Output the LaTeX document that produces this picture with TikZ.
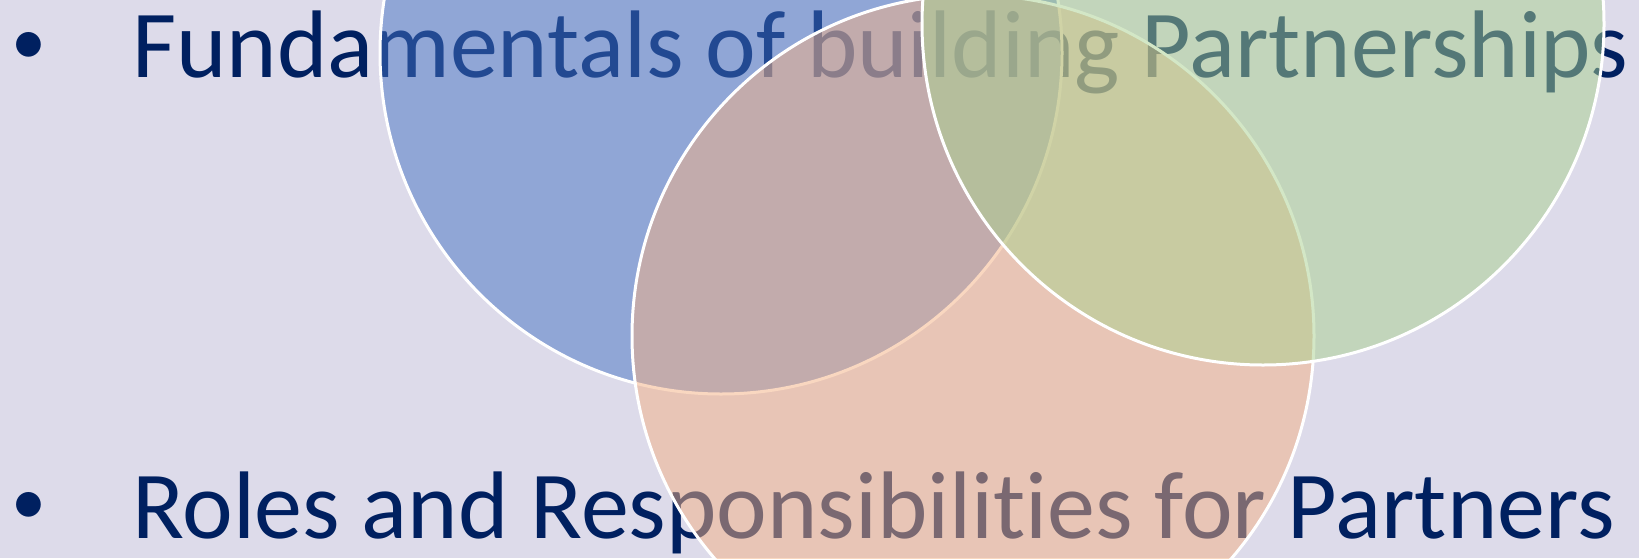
\documentclass[tikz,border=0pt]{standalone}
\usepackage{fontspec}
\setmainfont{Carlito}[Ligatures={NoCommon}]
\definecolor{bg}{HTML}{DDDBEA}
\definecolor{navy}{HTML}{002060}
\definecolor{cblue}{HTML}{4472C4}
\definecolor{corange}{HTML}{F4B183}
\definecolor{cgreen}{HTML}{A9D18E}
\begin{document}
\begin{tikzpicture}[x=1pt,y=-1pt,
  bigtext/.style={font=\fontsize{96}{110}\selectfont, text=navy, inner sep=0pt, anchor=base west},
  dot/.style={font=\fontsize{70}{80}\selectfont, text=navy, inner sep=0pt, anchor=base west},
  venn/.style={draw=white, line width=3pt, fill opacity=0.5}]
\fill[bg] (0,0) rectangle (1639,558);
\useasboundingbox (0,0) rectangle (1639,558);
\clip (0,0) rectangle (1639,558);
\node[dot] (b1) at (11,64) {•};
\node[bigtext] (t1) at (132,77) {Fundamentals of building Partnerships};
\node[dot] (b2) at (11,524) {•};
\node[bigtext] (t2) at (132,538) {Roles and Responsibilities for Partners};
\draw[venn, fill=cblue] (721,53) circle[radius=341pt];
\draw[venn, fill=corange] (973,336) circle[radius=341pt];
\draw[venn, fill=cgreen] (1263,24) circle[radius=341pt];
\end{tikzpicture}
\end{document}
